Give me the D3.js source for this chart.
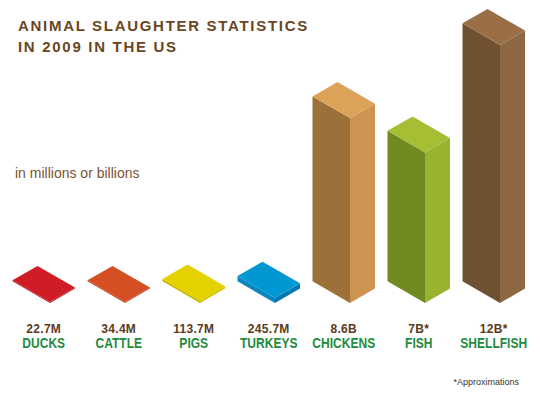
<!DOCTYPE html>
<html>
<head>
<meta charset="utf-8">
<script src="https://cdn.jsdelivr.net/npm/d3@7"></script>
<style>
body { margin: 0; background: #fff; }
svg { display: block; }
</style>
</head>
<body>
<svg width="541" height="394"></svg>
<script>
// data, in millions
var animals = ['DUCKS', 'CATTLE', 'PIGS', 'TURKEYS', 'CHICKENS', 'FISH', 'SHELLFISH'];
var killed = [22.7, 34.4, 113.7, 245.7, 8600, 7000, 12000];
var valueLabels = ['22.7M', '34.4M', '113.7M', '245.7M', '8.6B', '7B*', '12B*'];

// top, left side, right side
var topColors = ['#d01c24', '#d44f24', '#e3d200', '#0097d2', '#dca257', '#a5be33', '#9a6f47'];
var leftColors = ['#a8141c', '#b03e1a', '#cbb800', '#0a86c0', '#9c7039', '#718a22', '#6f5031'];
var rightColors = ['#b8161f', '#c04420', '#d6c200', '#007ab5', '#cc9450', '#99b22f', '#8d6843'];

var svg = d3.select('svg');
var base = 303;
// isometric depth offsets
var lx = 37.5, ly = 21.65, rx = 25, ry = 14.4;

var xs = d3.scalePoint().domain(animals).range([50, 500]);
var hs = d3.scaleLinear().domain([0, 12000]).range([0, 258]);

var data = animals.map(function(a, i) {
  return {name: a, v: killed[i], label: valueLabels[i], i: i};
});

function pts(p) { return p.map(function(q) { return q.join(','); }).join(' '); }

var g = svg.append('g');
var box = g.selectAll('g.box').data(data).enter().append('g').attr('class', 'box');

box.each(function(d) {
  var fx = xs(d.name);
  var h = Math.max(hs(d.v), 1);
  var t = base - h;
  var el = d3.select(this);
  // left face
  el.append('polygon')
    .attr('points', pts([[fx, base], [fx, t], [fx - lx, t - ly], [fx - lx, base - ly]]))
    .attr('fill', leftColors[d.i]);
  // right face
  el.append('polygon')
    .attr('points', pts([[fx, base], [fx, t], [fx + rx, t - ry], [fx + rx, base - ry]]))
    .attr('fill', rightColors[d.i]);
  // top
  el.append('polygon')
    .attr('points', pts([[fx, t], [fx - lx, t - ly], [fx - lx + rx, t - ly - ry], [fx + rx, t - ry]]))
    .attr('fill', topColors[d.i]);
});

// labels
var cx = function(d) { return xs(d.name) + (rx - lx) / 2; };
g.selectAll('text.val').data(data).enter().append('text')
  .attr('class', 'val')
  .attr('x', cx).attr('y', 333)
  .attr('text-anchor', 'middle')
  .style('font-family', 'Liberation Sans, Arial, sans-serif')
  .style('font-weight', 'bold').style('font-size', '12px')
  .style('letter-spacing', '0.3px')
  .attr('fill', '#5b3a1c')
  .text(function(d) { return d.label; });

// condensed look for the names
g.selectAll('text.cat').data(data).enter().append('text')
  .attr('class', 'cat')
  .attr('transform', function(d) { return 'translate(' + cx(d) + ',348) scale(0.86,1)'; })
  .attr('text-anchor', 'middle')
  .style('font-family', 'Liberation Sans, Arial, sans-serif')
  .style('font-weight', 'bold').style('font-size', '14px')
  .attr('fill', '#1f8b3e')
  .text(function(d) { return d.name; });

// title
var title = svg.append('text')
  .attr('x', 18).attr('y', 31)
  .style('font-family', 'Liberation Sans, Arial, sans-serif')
  .style('font-weight', 'bold').style('font-size', '15px')
  .style('letter-spacing', '1.7px')
  .attr('fill', '#6b4522');
title.append('tspan').attr('x', 18).attr('y', 31).text('ANIMAL SLAUGHTER STATISTICS');
title.append('tspan').attr('x', 18).attr('y', 52).text('IN 2009 IN THE US');

svg.append('text')
  .attr('x', 15).attr('y', 178)
  .style('font-family', 'Liberation Sans, Arial, sans-serif')
  .style('font-size', '14px')
  .attr('fill', '#7a5330')
  .text('in millions or billions');

svg.append('text')
  .attr('x', 519).attr('y', 385)
  .attr('text-anchor', 'end')
  .style('font-family', 'Liberation Sans, Arial, sans-serif')
  .style('font-size', '9px')
  .attr('fill', '#333')
  .text('*Approximations');
</script>
</body>
</html>
